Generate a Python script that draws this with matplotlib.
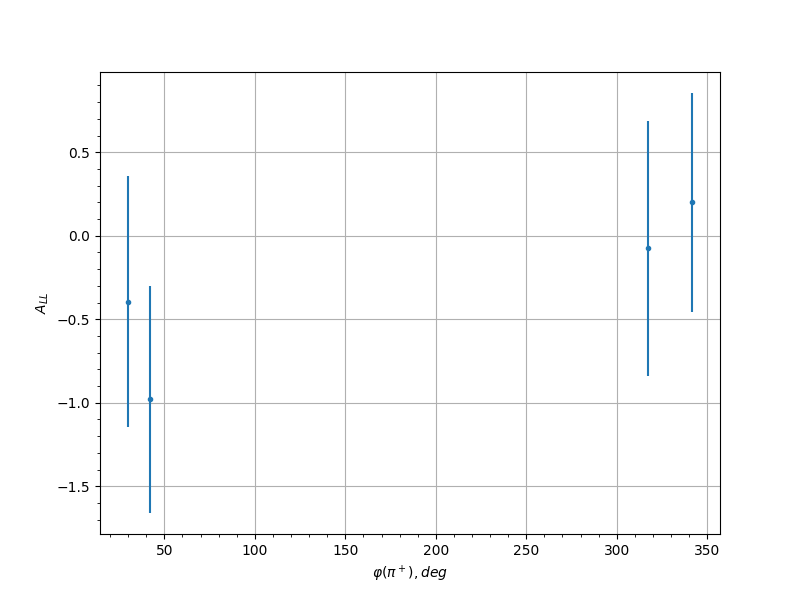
import matplotlib
matplotlib.use('Agg')
import matplotlib.pyplot as plt
import numpy as np

# azimuthal angle of pi+ (deg) and asymmetry values
phi = np.array([30.0, 42.0, 317.5, 341.5])
a_ll = np.array([-0.395, -0.98, -0.075, 0.20])
a_err = np.array([0.75, 0.68, 0.765, 0.655])

fig = plt.figure(figsize=(8, 6))
ax = fig.add_subplot(1, 1, 1)

ax.errorbar(phi, a_ll, yerr=a_err, fmt='.')
ax.set_xlabel(r'$\varphi(\pi^+), deg$')
ax.set_ylabel(r'$A_{LL}$')
ax.minorticks_on()
ax.grid()

plt.savefig('out.png', dpi=100)
